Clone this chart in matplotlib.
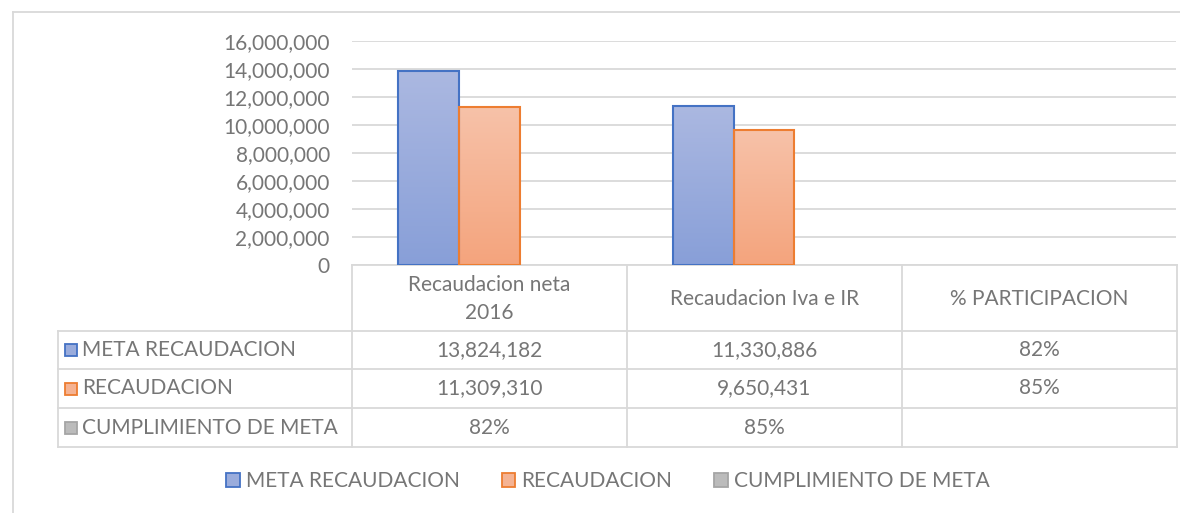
import matplotlib.pyplot as plt
import numpy as np
from matplotlib.patches import Rectangle
from matplotlib.ticker import FuncFormatter

# datos
categorias = ['Recaudacion neta\n2016', 'Recaudacion Iva e IR', '% PARTICIPACION']
series = ['META RECAUDACION', 'RECAUDACION', 'CUMPLIMIENTO DE META']
meta = [13824182, 11330886, 0.82]
recaudacion = [11309310, 9650431, 0.85]
cumplimiento = [0.82, 0.85, np.nan]
valores = [meta, recaudacion, cumplimiento]

# estilos
borde = ['#4472C4', '#ED7D31', '#A5A5A5']
arriba = ['#ABB8E1', '#F7C2A9', '#CDCDCD']
abajo = ['#889FD8', '#F4A47D', '#A9A9A9']
medio = ['#9AACDC', '#F5B393', '#BBBBBB']
gris_txt = '#767676'
linea = '#D9D9D9'
plt.rcParams['font.family'] = ['Lato', 'DejaVu Sans']
fs = 15

W, H = 1180, 513
fig = plt.figure(figsize=(W / 100, H / 100), dpi=100)

# fondo: tabla y marco
tax = fig.add_axes([0, 0, 1, 1])
tax.set_xlim(0, W)
tax.set_ylim(H, 0)
tax.axis('off')

ax = fig.add_axes([352 / W, 1 - 265 / H, (1176 - 352) / W, (265 - 41) / H])
x = np.arange(len(categorias))
ancho = 0.222
ymax = 16000000
for k, vals in enumerate(valores):
    b = ax.bar(x + (k - 1) * ancho, vals, ancho, color=medio[k], linewidth=0, zorder=3)
    grad = np.linspace(0, 1, 256).reshape(-1, 1)
    cmap = plt.matplotlib.colors.LinearSegmentedColormap.from_list('g', [arriba[k], abajo[k]])
    for p in b.patches:
        h = p.get_height()
        if not np.isfinite(h) or h < ymax * 0.005:
            continue
        im = ax.imshow(grad, cmap=cmap, extent=(p.get_x(), p.get_x() + p.get_width(), 0, h),
                       aspect='auto', origin='upper', zorder=3.1)
        im.set_clip_path(p)
        ax.add_patch(Rectangle(p.get_xy(), p.get_width(), h, fill=False,
                               edgecolor=borde[k], linewidth=1.5, zorder=3.2))

ax.set_xlim(-0.5, len(categorias) - 0.5)
ax.set_ylim(0, ymax)
ax.set_yticks(np.arange(0, ymax + 1, 2000000))
ax.yaxis.set_major_formatter(FuncFormatter(lambda v, p: f'{v:,.0f}'))
ax.set_xticks([])
ax.tick_params(axis='y', length=0, pad=16, labelsize=fs, labelcolor=gris_txt)
ax.grid(axis='y', color=linea, linewidth=1.3, zorder=0)
for s in ax.spines.values():
    s.set_visible(False)
ax.set_facecolor('none')

# marco exterior
tax.plot([13, 13], [12, H], color=linea, lw=1.3)
tax.plot([13, W], [12, 12], color=linea, lw=1.3)

# tabla de datos
col_x = [352 + 275 * i for i in range(len(categorias) + 1)]
filas = [265, 331, 369, 408, 447]
izq = 58
for yy in filas:
    tax.plot([izq if yy > 265 else col_x[0], col_x[-1]], [yy, yy], color=linea, lw=1.3)
tax.plot([izq, izq], [filas[1], filas[-1]], color=linea, lw=1.3)
for xx in col_x:
    tax.plot([xx, xx], [filas[0], filas[-1]], color=linea, lw=1.3)

for i, c in enumerate(categorias):
    tax.text((col_x[i] + col_x[i + 1]) / 2, (filas[0] + filas[1]) / 2 + 1, c, ha='center',
             va='center', fontsize=fs, color=gris_txt, linespacing=1.5)


def fmt(v):
    if not np.isfinite(v):
        return ''
    return f'{v:.0%}' if v < 1.5 else f'{v:,.0f}'


handles = []
for k, vals in enumerate(valores):
    yc = (filas[k + 1] + filas[k + 2]) / 2
    tax.add_patch(Rectangle((65, yc - 6), 12, 12, facecolor=medio[k],
                            edgecolor=borde[k], linewidth=1.3))
    tax.text(82, yc, series[k], ha='left', va='center', fontsize=fs, color=gris_txt)
    for i, v in enumerate(vals):
        tax.text((col_x[i] + col_x[i + 1]) / 2, yc, fmt(v), ha='center', va='center',
                 fontsize=fs, color=gris_txt)
    handles.append(Rectangle((0, 0), 1, 1, facecolor=medio[k], edgecolor=borde[k], linewidth=1.3))

# leyenda
leg = fig.legend(handles=handles, labels=series, ncol=3, loc='center',
                 bbox_to_anchor=(608 / W, 1 - 481 / H), frameon=False, fontsize=fs,
                 handlelength=0.65, handleheight=0.65, handletextpad=0.3, columnspacing=2.0)
for t in leg.get_texts():
    t.set_color(gris_txt)

fig.savefig('out.png', dpi=100)
